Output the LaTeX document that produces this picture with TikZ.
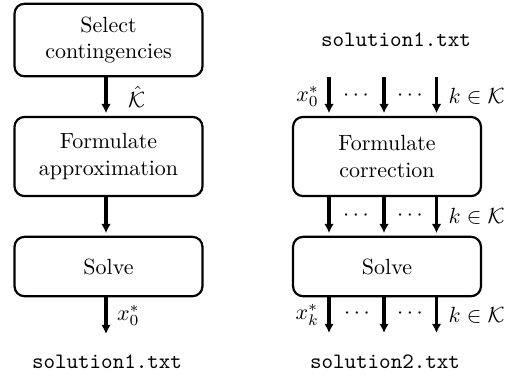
\documentclass[tikz,border=0pt]{standalone}
\usetikzlibrary{arrows.meta}

\tikzset{every picture/.style={line width=0.75pt}}
\tikzset{
  procbox/.style={draw, line width=1pt, rounded corners=4.5pt, minimum width=85.5pt, inner sep=0pt, align=center},
  flowarrow/.style={line width=1.4pt, -{Latex[length=4.2pt,width=4.4pt]}},
  fname/.style={font=\ttfamily},
}

\begin{document}
\begin{tikzpicture}[x=0.455pt,y=0.455pt,yscale=-1,xscale=1]
        \useasboundingbox (0,0) rectangle (516,378);

        %Left column boxes
        \node[procbox, minimum height=33pt] (select) at (108.5,40) {Select\\contingencies};
        \node[procbox, minimum height=36pt] (approx) at (108.5,156.5) {Formulate\\approximation};
        \node[procbox, minimum height=27pt] (solveA) at (108.5,266.5) {Solve};
        \coordinate (outA) at (106,334);
        \node[fname] (fileA) at (107,361.5) {solution1.txt};

        %Left column arrows
        \draw[flowarrow, shorten >=1.2pt] (select.south -| outA) -- node[right=6pt] {$\hat{\mathcal{K}}$} (approx.north -| outA);
        \draw[flowarrow, shorten >=1.2pt] (approx.south -| outA) -- (solveA.north -| outA);
        \draw[flowarrow] (solveA.south -| outA) -- node[right=1pt] {$x_0^*$} (outA);

        %Right column boxes
        \node[fname] (fileIn) at (396,40) {solution1.txt};
        \coordinate (in1) at (329,77);
        \coordinate (in2) at (384,77);
        \coordinate (in3) at (436.5,77);
        \node[procbox, minimum height=36pt] (correct) at (387,156.5) {Formulate\\correction};
        \node[procbox, minimum height=27pt] (solveB) at (387,266.5) {Solve};
        \coordinate (out1) at (329,333);
        \coordinate (out2) at (384,333);
        \coordinate (out3) at (436.5,333);
        \node[fname] (fileB) at (385,361.5) {solution2.txt};

        %Inputs into correction
        \draw[flowarrow, shorten >=1.2pt] (in1) -- node[left=0.5pt] {$x_0^*$} (in1 |- correct.north);
        \draw[flowarrow, shorten >=1.2pt] (in2) -- (in2 |- correct.north);
        \draw[flowarrow, shorten >=1.2pt] (in3) -- node[right=1.5pt] {$k\in\mathcal{K}$} (in3 |- correct.north);
        \node (dotsIn1) at (356,96) {$\cdots$};
        \node (dotsIn2) at (410,96) {$\cdots$};

        %Correction to solve
        \draw[flowarrow, shorten >=1.2pt] (correct.south -| in1) -- (solveB.north -| in1);
        \draw[flowarrow, shorten >=1.2pt] (correct.south -| in2) -- (solveB.north -| in2);
        \draw[flowarrow, shorten >=1.2pt] (correct.south -| in3) -- node[right=1.5pt] {$k\in\mathcal{K}$} (solveB.north -| in3);
        \node (dotsMid1) at (356,216) {$\cdots$};
        \node (dotsMid2) at (410,216) {$\cdots$};

        %Outputs of solve
        \draw[flowarrow] (solveB.south -| out1) -- node[left=0.5pt] {$x_k^*$} (out1);
        \draw[flowarrow] (solveB.south -| out2) -- (out2);
        \draw[flowarrow] (solveB.south -| out3) -- node[right=1.5pt] {$k\in\mathcal{K}$} (out3);
        \node (dotsOut1) at (357,314) {$\cdots$};
        \node (dotsOut2) at (410,314) {$\cdots$};

\end{tikzpicture}
\end{document}
